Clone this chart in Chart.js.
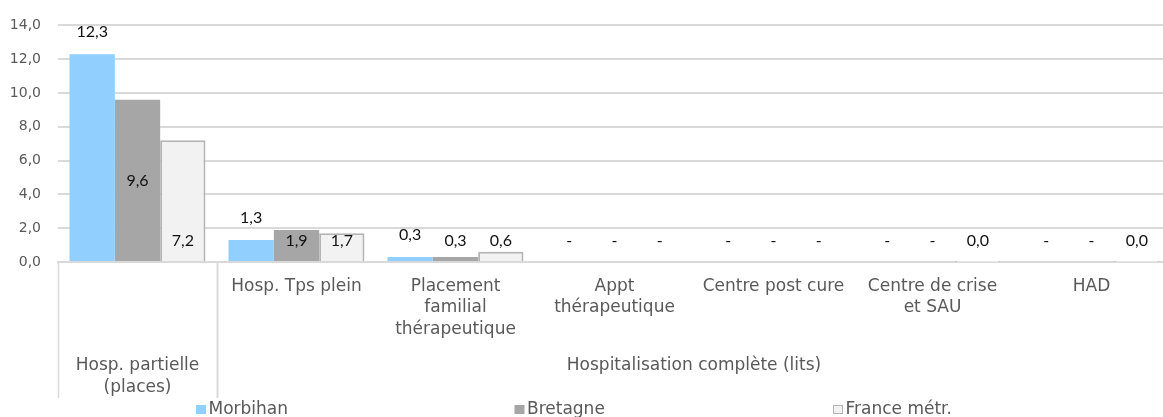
<!DOCTYPE html>
<html>
<head>
<meta charset="utf-8">
<script src="https://cdn.jsdelivr.net/npm/chart.js@4/dist/chart.umd.min.js"></script>
<style>
  html, body { margin: 0; padding: 0; overflow: hidden; background: #fff; }
</style>
</head>
<body>
<canvas id="myChart" width="1171" height="417"></canvas>
<script>
const categories = [
  "",
  "Hosp. Tps plein",
  ["Placement", "familial", "thérapeutique"],
  ["Appt", "thérapeutique"],
  "Centre post cure",
  ["Centre de crise", "et SAU"],
  "HAD",
];
const groupLabels = [["Hosp. partielle", "(places)"], ["Hospitalisation complète (lits)"]];
const groupSpans = [[0, 0], [1, 6]];

const seriesNames = ["Morbihan", "Bretagne", "France métr."];
// null = "-" in the source table
const morbihan = [12.3, 1.3, 0.3, null, null, null, null];
const bretagne = [9.6, 1.9, 0.3, null, null, null, null];
const france = [7.2, 1.7, 0.6, null, null, 0.02, 0.02];

const yTicks = [0, 2, 4, 6, 8, 10, 12, 14];

const fmt = (v) => v.toFixed(1).replace(".", ",");

Chart.defaults.font.family = '"DejaVu Sans"';
Chart.defaults.color = "#595959";

const valueLabels = {
  id: "valueLabels",
  afterDatasetsDraw(chart) {
    const { ctx, scales: { y } } = chart;
    const base = y.getPixelForValue(0);
    const low = base - 21.5;
    ctx.save();
    ctx.font = "16px Lato";
    ctx.fillStyle = "#111";
    ctx.textAlign = "center";
    ctx.textBaseline = "middle";
    chart.data.datasets.forEach((ds, di) => {
      const meta = chart.getDatasetMeta(di);
      ds.data.forEach((v, i) => {
        const px = meta.data[i].x;
        let py = low;
        if (v !== null) {
          const top = y.getPixelForValue(v);
          if (ds.labelPos === "outside") py = Math.min(top - 22, low);
          else if (ds.labelPos === "center") py = Math.min((top + base) / 2, low);
        }
        ctx.fillText(v === null ? "-" : fmt(v), px, py);
      });
    });
    ctx.restore();
  },
};

const groupAxis = {
  id: "groupAxis",
  afterDraw(chart) {
    const { ctx, scales: { x } } = chart;
    const bottom = chart.chartArea.bottom;
    const half = (x.getPixelForValue(1) - x.getPixelForValue(0)) / 2;
    ctx.save();
    ctx.strokeStyle = "#D9D9D9";
    ctx.lineWidth = 1.5;
    ctx.font = '17px "DejaVu Sans"';
    ctx.fillStyle = "#595959";
    ctx.textAlign = "center";
    ctx.textBaseline = "middle";
    groupLabels.forEach((lines, g) => {
      const left = x.getPixelForValue(groupSpans[g][0]) - half;
      const right = x.getPixelForValue(groupSpans[g][1]) + half;
      [left, right].forEach((px) => {
        const sx = Math.round(px) + 0.5;
        ctx.beginPath();
        ctx.moveTo(sx, bottom);
        ctx.lineTo(sx, bottom + 136);
        ctx.stroke();
      });
      lines.forEach((t, k) => ctx.fillText(t, (left + right) / 2, bottom + 104 + k * 21.5));
    });

    // legend, evenly spaced like the original
    ctx.textAlign = "left";
    ctx.lineWidth = 1;
    chart.data.datasets.forEach((ds, di) => {
      const lx = 196 + di * 318.5;
      ctx.fillStyle = ds.backgroundColor;
      ctx.fillRect(lx, 405, 10, 9);
      if (ds.borderWidth) {
        ctx.strokeStyle = ds.borderColor;
        ctx.strokeRect(lx + 0.5, 405.5, 9, 8);
      }
      ctx.fillStyle = "#595959";
      ctx.fillText(ds.label, lx + 12.5, 410);
    });
    ctx.restore();
  },
};

new Chart(document.getElementById("myChart"), {
  type: "bar",
  data: {
    labels: categories,
    datasets: [
      { label: seriesNames[0], data: morbihan, backgroundColor: "#91CFFF", labelPos: "outside" },
      { label: seriesNames[1], data: bretagne, backgroundColor: "#A6A6A6", labelPos: "center" },
      {
        label: seriesNames[2], data: france, backgroundColor: "#F2F2F2",
        borderColor: "#B4B4B4", borderWidth: { top: 2, left: 2, right: 2, bottom: 0 }, labelPos: "base",
      },
    ],
  },
  options: {
    responsive: false,
    animation: false,
    layout: { padding: { top: 22, left: 0, right: 0, bottom: 0 } },
    datasets: { bar: { categoryPercentage: 0.855, barPercentage: 1 } },
    scales: {
      x: {
        grid: { display: false, drawTicks: false },
        border: { color: "#D9D9D9", width: 2 },
        ticks: {
          autoSkip: false, maxRotation: 0, minRotation: 0, padding: 14,
          font: { size: 17, lineHeight: 1.25 },
        },
        afterFit: (scale) => { scale.height = 155; },
      },
      y: {
        min: 0,
        max: 14,
        afterBuildTicks: (scale) => { scale.ticks = yTicks.map((v) => ({ value: v })); },
        grid: { color: "#D9D9D9", lineWidth: 2, drawTicks: false },
        border: { display: false },
        ticks: { padding: 17, font: { size: 14 }, callback: (v) => fmt(v) },
        afterFit: (scale) => { scale.width = 58; },
      },
    },
    plugins: {
      legend: { display: false },
      tooltip: { enabled: false },
    },
  },
  plugins: [valueLabels, groupAxis],
});
</script>
</body>
</html>
